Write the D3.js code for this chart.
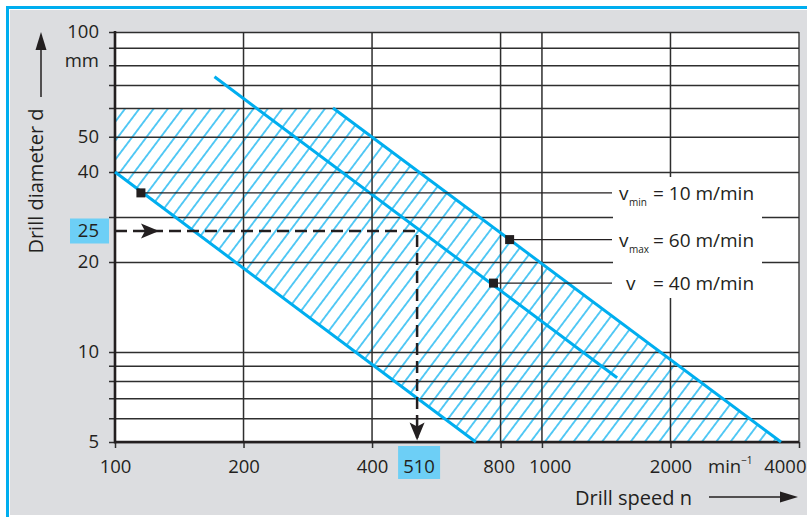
<!DOCTYPE html>
<html><head><meta charset="utf-8">
<script src="https://cdn.jsdelivr.net/npm/d3@7"></script>
<style>
body{margin:0;background:#fff;}
svg{display:block;}
text{font-family:"Open Sans",sans-serif;fill:#231f20;}
</style></head><body>
<svg id="chart" width="807" height="517"></svg>
<script>
// ---------- data ----------
const xTickValues = [100, 200, 400, 800, 1000, 2000, 4000];
const xGridValues = [200, 400, 800, 1000, 2000];
const yGridValues = [5, 6, 7, 8, 9, 10, 20, 30, 40, 50, 60, 70, 80, 90, 100];
const yLabelValues = [5, 10, 20, 40, 50, 100];
const xUnitLabel = "min";
const yUnitLabel = "mm";
// hatched working range (n in 1/min, d in mm)
const hatchArea = [[100, 60], [324, 60], [3630, 5], [700, 5], [100, 40]];
const vMinLine = [[100, 40], [700, 5]];
const vMaxLine = [[324, 60], [3630, 5]];
const vLine = [[171, 74], [1500, 8.2]];
const markerPoints = [[115, 35], [840, 23.5], [770, 17]];
const legendSymbols = ["v", "v", "v"];
const legendSubs = ["min", "max", ""];
const legendTexts = ["= 10 m/min", "= 60 m/min", "= 40 m/min"];
const exampleD = 25;
const exampleN = 510;
const xTitle = "Drill speed n";
const yTitle = "Drill diameter d";

// ---------- layout ----------
const W = 807, H = 517;
const X0 = 115, X1 = 799, Y0 = 442, Y1 = 32;
const BLUE = "#00aeef", INK = "#231f20", GRID = "#2e2e2e";
const FS = 18.5;

const svg = d3.select("#chart");
svg.append("rect").attr("x", 10).attr("y", 10).attr("width", W - 10).attr("height", 505).attr("fill", "#dcdde0");
svg.append("line").attr("x1", 7.5).attr("x2", 7.5).attr("y1", 6).attr("y2", H).attr("stroke", BLUE).attr("stroke-width", 3);
svg.append("line").attr("x1", 6).attr("x2", W).attr("y1", 7.5).attr("y2", 7.5).attr("stroke", BLUE).attr("stroke-width", 3);

const x = d3.scaleLog().domain([100, 4000]).range([X0, X1]);
// printed grid is not perfectly logarithmic: piecewise log scale
const y = d3.scaleLog().domain([5, 20, 25, 30, 40, 60, 100]).range([Y0, 262, 231, 217, 172, 108, Y1]);

svg.append("rect").attr("x", X0).attr("y", Y1).attr("width", X1 - X0).attr("height", Y0 - Y1).attr("fill", "#fff");

// hatch pattern
const defs = svg.append("defs");
const sp = 11.4;
const pat = defs.append("pattern").attr("id", "hatch").attr("patternUnits", "userSpaceOnUse")
  .attr("width", sp).attr("height", sp).attr("patternTransform", "rotate(37)");
pat.append("line").attr("x1", sp / 2).attr("x2", sp / 2).attr("y1", -1).attr("y2", sp + 1)
  .attr("stroke", BLUE).attr("stroke-width", 1.3);

const line = d3.line().x(d => x(d[0])).y(d => y(d[1]));
svg.append("path").attr("d", line(hatchArea) + "Z").attr("fill", "url(#hatch)");

// vertical gridlines
svg.append("g").selectAll("line").data(xGridValues).join("line")
  .attr("x1", d => x(d)).attr("x2", d => x(d)).attr("y1", Y1).attr("y2", Y0)
  .attr("stroke", GRID).attr("stroke-width", 1.5);
svg.append("line").attr("x1", X1).attr("x2", X1).attr("y1", Y1).attr("y2", Y0).attr("stroke", GRID).attr("stroke-width", 1.3);

// y axis with gridlines
const yAxis = d3.axisLeft(y).tickValues(yGridValues)
  .tickSizeInner(-(X1 - X0 + 6)).tickSizeOuter(0).tickPadding(10)
  .tickFormat(d => yLabelValues.includes(d) ? String(d) : "");
const gy = svg.append("g").attr("transform", `translate(${X0 - 6},0)`).call(yAxis);
gy.select(".domain").remove();
gy.selectAll(".tick line").attr("stroke", GRID).attr("stroke-width", 1.5);
gy.selectAll(".tick text").attr("font-size", FS).attr("font-family", "Open Sans").attr("fill", INK);

// x axis
const xAxis = d3.axisBottom(x).tickValues(xTickValues).tickSizeInner(6).tickSizeOuter(0).tickPadding(11.5)
  .tickFormat(d => String(d));
const gx = svg.append("g").attr("transform", `translate(0,${Y0})`).call(xAxis);
gx.select(".domain").remove();
gx.selectAll(".tick line").attr("stroke", GRID).attr("stroke-width", 1.5);
const xt = gx.selectAll(".tick text").attr("font-size", FS).attr("font-family", "Open Sans").attr("fill", INK);
// keep labels inside the picture and apart from each other
const nodes = xt.nodes();
const boxes = nodes.map((n, i) => { const w = n.getComputedTextLength(); return {c: x(xTickValues[i]), w}; });
boxes.forEach(b => { if (b.c + b.w / 2 > W - 1) b.c = W - 1 - b.w / 2; });
for (let i = 1; i < boxes.length; i++) {
  const a = boxes[i - 1], b = boxes[i];
  const gap = (b.c - b.w / 2) - (a.c + a.w / 2);
  if (gap < 14) { const s = (14 - gap) / 2; a.c -= s * 0.4; b.c += s * 1.6; }
}
nodes.forEach((n, i) => d3.select(n).attr("x", boxes[i].c - x(xTickValues[i])));

// heavy axes
svg.append("line").attr("x1", X0).attr("x2", X0).attr("y1", Y1 - 1).attr("y2", Y0 + 1.2).attr("stroke", INK).attr("stroke-width", 2.6);
svg.append("line").attr("x1", X0 - 1).attr("x2", X1).attr("y1", Y0).attr("y2", Y0).attr("stroke", INK).attr("stroke-width", 2.6);

// white box behind legend labels
svg.append("rect").attr("x", 613).attr("y", 177).attr("width", 149).attr("height", 121).attr("fill", "#fff");

// blue velocity lines
[vMinLine, vMaxLine, vLine].forEach(l => {
  svg.append("path").attr("d", line(l)).attr("fill", "none").attr("stroke", BLUE).attr("stroke-width", 3);
});

// dashed example lines
const ex = x(exampleN), ey = y(exampleD);
svg.append("path").attr("d", `M${X0},${ey}H${ex}V${Y0 - 4}`).attr("fill", "none")
  .attr("stroke", INK).attr("stroke-width", 2.5).attr("stroke-dasharray", "12,6");
function arrow(tx, ty, dir, len, wid, notch) {
  const v = {r: [1, 0], l: [-1, 0], u: [0, -1], d: [0, 1]}[dir];
  const p = [-v[1], v[0]];
  const bx = tx - v[0] * len, by = ty - v[1] * len;
  const nx = tx - v[0] * (len - notch), ny = ty - v[1] * (len - notch);
  return `M${tx},${ty}L${bx + p[0] * wid / 2},${by + p[1] * wid / 2}L${nx},${ny}L${bx - p[0] * wid / 2},${by - p[1] * wid / 2}Z`;
}
svg.append("path").attr("d", arrow(159, ey, "r", 18, 15, 4)).attr("fill", INK);
svg.append("path").attr("d", arrow(ex, Y0 - 1.5, "d", 18, 15, 4)).attr("fill", INK);

// highlighted example values
svg.append("rect").attr("x", 70).attr("y", ey - 12.5).attr("width", 39).attr("height", 25).attr("fill", "#6dcff6");
svg.append("text").attr("x", 99).attr("y", ey).attr("dy", "0.34em").attr("text-anchor", "end").attr("font-size", FS).text(exampleD);
svg.append("rect").attr("x", ex - 19).attr("y", 446).attr("width", 42).attr("height", 33).attr("fill", "#6dcff6");
svg.append("text").attr("x", ex + 2).attr("y", 473).attr("text-anchor", "middle").attr("font-size", FS).text(exampleN);

// markers, leader lines, labels
markerPoints.forEach((m, i) => {
  const mx = x(m[0]), my = y(m[1]);
  svg.append("line").attr("x1", mx).attr("x2", 612).attr("y1", my).attr("y2", my).attr("stroke", INK).attr("stroke-width", 1.4);
  svg.append("rect").attr("x", mx - 4.5).attr("y", my - 4.5).attr("width", 9).attr("height", 9).attr("fill", INK);
  const hasSub = legendSubs[i] !== "";
  svg.append("text").attr("x", hasSub ? 619 : 626).attr("y", my + 7).attr("font-size", 19).text(legendSymbols[i]);
  if (hasSub) svg.append("text").attr("x", 629).attr("y", my + 13.5).attr("font-size", 10).text(legendSubs[i]);
  svg.append("text").attr("x", 653).attr("y", my + 7).attr("font-size", 19).text(legendTexts[i]);
});

// units
svg.append("text").attr("x", 99).attr("y", y(80) + 2).attr("text-anchor", "end").attr("font-size", FS).text(yUnitLabel);
const u = svg.append("text").attr("x", 708).attr("y", 473).attr("font-size", FS);
u.append("tspan").text(xUnitLabel);
u.append("tspan").attr("font-size", 10).attr("dy", -9).text("\u22121");

// titles with arrows
svg.append("text").attr("x", 575).attr("y", 505).attr("font-size", 20).text(xTitle);
svg.append("line").attr("x1", 709).attr("x2", 785).attr("y1", 497).attr("y2", 497).attr("stroke", INK).attr("stroke-width", 1.5);
svg.append("path").attr("d", arrow(798, 497, "r", 18, 11, 0)).attr("fill", INK);
svg.append("text").attr("transform", "translate(43,181) rotate(-90)").attr("text-anchor", "middle").attr("font-size", 20).text(yTitle);
svg.append("line").attr("x1", 41).attr("x2", 41).attr("y1", 97).attr("y2", 45).attr("stroke", INK).attr("stroke-width", 1.5);
svg.append("path").attr("d", arrow(41, 32, "u", 18, 11, 0)).attr("fill", INK);
</script>
</body></html>
